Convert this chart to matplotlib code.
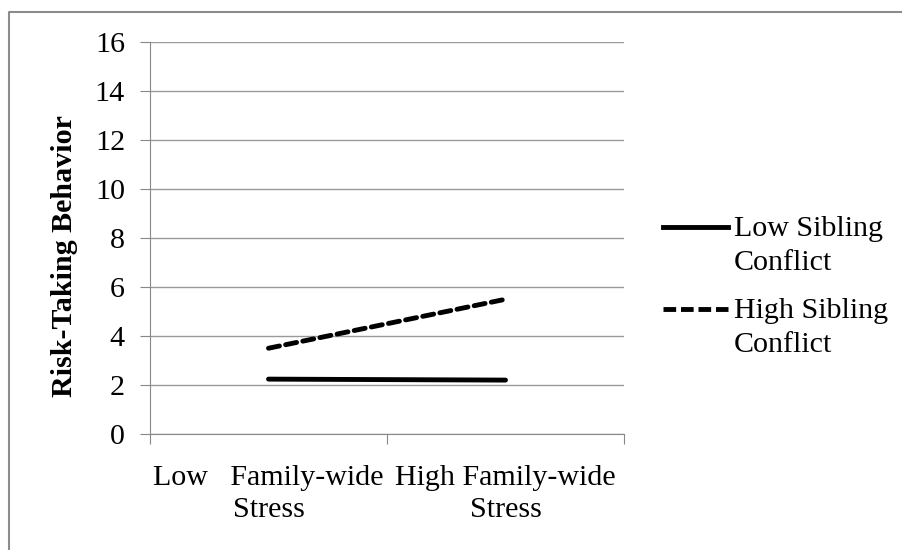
import matplotlib.pyplot as plt
from matplotlib.lines import Line2D

plt.rcParams['font.family'] = ['Liberation Serif', 'DejaVu Serif']

categories = ["Low   Family-wide\nStress", "High Family-wide\nStress"]
series_names = ["Low Sibling\nConflict", "High Sibling\nConflict"]
low_conflict = [2.24, 2.2]
high_conflict = [3.5, 5.5]
yticks = [0, 2, 4, 6, 8, 10, 12, 14, 16]

FS = 21.6
W, H = 903, 550
fig = plt.figure(figsize=(W / 100, H / 100), dpi=100)
ax = fig.add_axes([150 / W, 1 - 434 / H, (624 - 150) / W, (434 - 42) / H])

# chart border (only top and left edges show in the original crop)
fig.add_artist(Line2D([9 / W, 9 / W, 1], [0, 1 - 12 / H, 1 - 12 / H], transform=fig.transFigure,
                      color='#8c8c8c', lw=1.5))

x = [0.5, 1.5]
styles = [dict(ls='-', solid_capstyle='round'),
          dict(dashes=(2.3, 1.3), dash_capstyle='round')]
for vals, name, st in zip([low_conflict, high_conflict], series_names, styles):
    ax.plot(x, vals, color='black', lw=3.5, label=name, **st)

ax.set_xlim(0, 2)
ax.set_ylim(0, 16)
ax.set_yticks(yticks)
ax.set_yticklabels([str(v) for v in yticks], fontsize=FS)
ax.yaxis.grid(True, color='#999999', lw=1)
ax.set_axisbelow(True)

ax.set_xticks([0, 1, 2])
ax.set_xticklabels([])
ax.set_xticks(x, minor=True)
ax.set_xticklabels(categories, minor=True, fontsize=FS, linespacing=1.34)
ax.tick_params(axis='x', which='minor', length=0, pad=22)
ax.tick_params(axis='x', which='major', length=7, color='#888888')
ax.tick_params(axis='y', length=7, color='#888888', pad=11)

for s in ['top', 'right']:
    ax.spines[s].set_visible(False)
ax.spines['bottom'].set_color('#888888')
ax.spines['left'].set_color('#888888')

ax.set_ylabel('Risk-Taking Behavior', fontsize=FS, fontweight='bold', va='center')
ax.yaxis.set_label_coords((65 - 150) / 474, (434 - 256) / 392)

# legend, drawn by hand so the key sits beside the first text line
handles, labels = ax.get_legend_handles_labels()
for i, (h, lab) in enumerate(zip(handles, labels)):
    ly = 1 - (227 + 82 * i) / H
    fig.add_artist(Line2D([663 / W, 728 / W], [ly, ly], transform=fig.transFigure, color='black',
                          lw=3.5, ls=h.get_linestyle(), dashes=(2.6, 1.0) if i else (None, None),
                          dash_capstyle='butt'))
    fig.text(734 / W, 1 - (216 + 82 * i) / H, lab, fontsize=FS, va='top', ha='left', linespacing=1.42)

fig.savefig('out.png', dpi=100)
